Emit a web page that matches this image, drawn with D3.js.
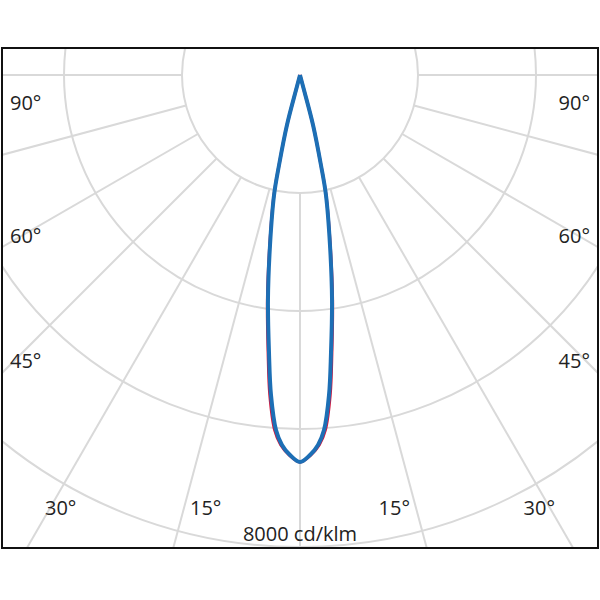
<!DOCTYPE html><html><head><meta charset="utf-8"><script src="https://cdn.jsdelivr.net/npm/d3@7"></script>
<style>body{margin:0;background:#fff}</style></head><body><svg id="c" width="600" height="600"></svg>
<script>
const ringValues=[2000,4000,6000,8000,10000];
const rayAngles=d3.range(-180,180,15);
const blueAngles=[0,1.51,2.79,3.87,5.18,6.36,8.1,10.0,12.2,13.1,14.6,14.9,15];
const blueValues=[6560,6443,6278,6031,5446,4741,3852,2926,2081,1566,876,263,0];
const redAngles=[0,1.66,3.0,4.1,5.4,6.55,8.25,10.1,12.25,13.1,14.6,14.9,15];
const redValues=[6560,6440,6275,6030,5446,4741,3852,2926,2081,1566,876,263,0];
const leftLabels=[["90°",10,110],["60°",10,243],["45°",10,368],["30°",45,515],["15°",190,515]];
const unitLabel="8000 cd/klm";
const svg=d3.select("#c");
const cx=300,cy=75;
const r=d3.scaleLinear().domain([0,8000]).range([0,472]);
svg.append("defs").append("clipPath").attr("id","cl").append("rect").attr("x",2).attr("y",48).attr("width",596).attr("height",500);
const g=svg.append("g").attr("clip-path","url(#cl)").append("g").attr("transform",`translate(${cx},${cy})`);
g.selectAll(".ring").data(ringValues).join("circle").attr("r",d=>r(d)).attr("fill","none").attr("stroke","#d9d9d9").attr("stroke-width",2);
g.selectAll(".ray").data(rayAngles).join("line").each(function(a){
 const t=a*Math.PI/180;const s=Math.sin(t),c=Math.cos(t);
 d3.select(this).attr("x1",s*r(2000)).attr("y1",c*r(2000)).attr("x2",s*900).attr("y2",c*900);
}).attr("stroke","#d9d9d9").attr("stroke-width",2);
function lobe(angles,vals){
 const pts=[];
 for(let i=angles.length-1;i>0;i--)pts.push([-angles[i],vals[i]]);
 for(let i=0;i<angles.length;i++)pts.push([angles[i],vals[i]]);
 return pts;
}
const line=d3.lineRadial().angle(d=>Math.PI-d[0]*Math.PI/180).radius(d=>r(d[1])).curve(d3.curveCatmullRom);
g.append("path").attr("d",line(lobe(redAngles,redValues))).attr("fill","none").attr("stroke","#d4143c").attr("stroke-width",3);
g.append("path").attr("d",line(lobe(blueAngles,blueValues))).attr("fill","none").attr("stroke","#1d6fb5").attr("stroke-width",4).attr("stroke-linejoin","round");
const font="'Open Sans', 'DejaVu Sans', sans-serif";
leftLabels.forEach(([t,x,y])=>{
 svg.append("text").attr("x",x).attr("y",y).text(t).attr("font-family",font).attr("font-size",20).attr("fill","#222");
 svg.append("text").attr("x",600-x).attr("y",y).attr("text-anchor","end").text(t).attr("font-family",font).attr("font-size",20).attr("fill","#222");
});
svg.append("text").attr("x",300).attr("y",541).attr("text-anchor","middle").text(unitLabel).attr("font-family",font).attr("font-size",20).attr("fill","#222");
svg.append("rect").attr("x",2).attr("y",48).attr("width",596).attr("height",500).attr("fill","none").attr("stroke","#111").attr("stroke-width",2);
</script></body></html>
